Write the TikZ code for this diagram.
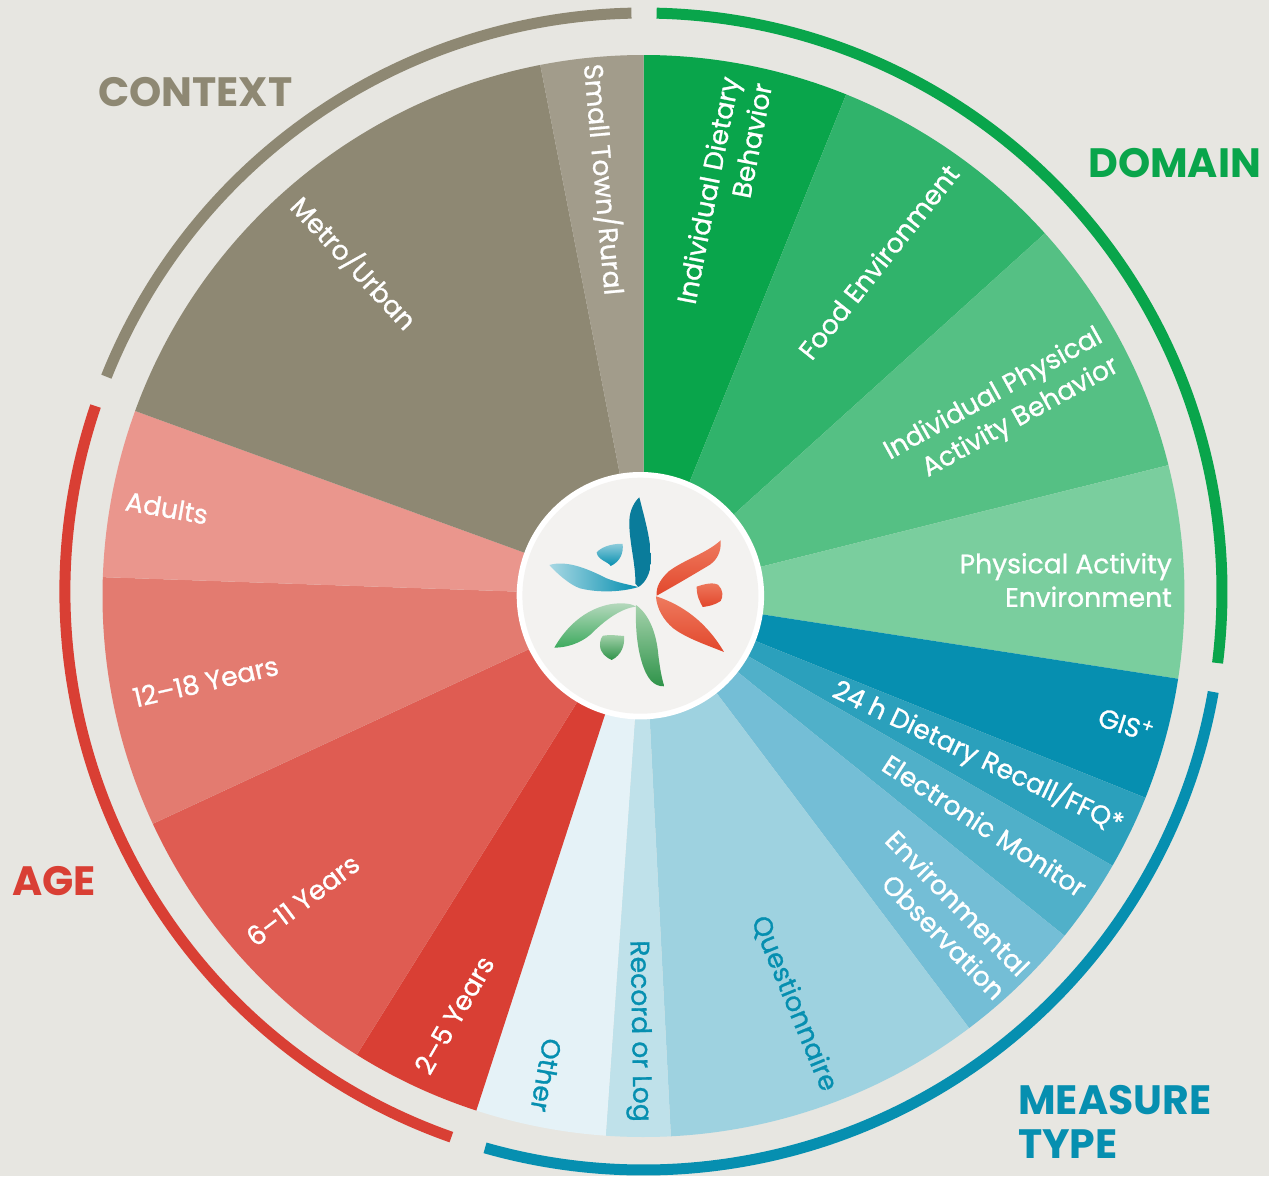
\documentclass[tikz,border=0pt]{standalone}
\usepackage{fontspec}
\setmainfont{Poppins}
\newfontfamily\labfont{Poppins}[FakeBold=1.0,Ligatures=TeX]
\definecolor{bgc}{HTML}{E7E6E1}
\definecolor{hub}{HTML}{F3F2F0}
\definecolor{dA}{HTML}{09A54B}\definecolor{dB}{HTML}{30B36B}\definecolor{dC}{HTML}{55C084}\definecolor{dD}{HTML}{7ACE9E}
\definecolor{mA}{HTML}{068FB0}\definecolor{mB}{HTML}{2BA0BC}\definecolor{mC}{HTML}{50B0C9}\definecolor{mD}{HTML}{74BED6}
\definecolor{mE}{HTML}{9ED2E0}\definecolor{mF}{HTML}{BFE1EA}\definecolor{mG}{HTML}{E5F2F7}
\definecolor{aA}{HTML}{D93F34}\definecolor{aB}{HTML}{DF5C52}\definecolor{aC}{HTML}{E37B70}\definecolor{aD}{HTML}{EA968D}
\definecolor{cA}{HTML}{8E8873}\definecolor{cB}{HTML}{A29C8B}
\definecolor{rL}{HTML}{EE7A5E}\definecolor{rD}{HTML}{E2472C}
\definecolor{tD}{HTML}{0A7C9B}
\definecolor{gL}{HTML}{B7D9BE}\definecolor{gM}{HTML}{3DAA5E}\definecolor{gD}{HTML}{2E9349}\definecolor{gT}{HTML}{A5D2AC}
\newcommand{\wheelpart}[3]{\fill[#3] (0,0) -- (90-#1:541pt) arc[start angle=90-#1,end angle=90-#2,radius=541pt] -- cycle;}
\newcommand{\ringpart}[3]{\draw[#3,line width=11pt] (90-#1:578.5pt) arc[start angle=90-#1,end angle=90-#2,radius=578.5pt];}
\tikzset{
  lab/.style={white,font=\labfont\fontsize{26.6}{33.5}\selectfont,align=right,inner sep=0pt},
  bluelab/.style={lab,text=mA},
  head/.style={font=\fontsize{41}{44}\selectfont\bfseries,inner sep=0pt,align=left},
  leaf/.style={draw=none,shading=axis}
}
\begin{document}
\begin{tikzpicture}[x=1pt,y=-1pt]
\useasboundingbox (0,0) rectangle (1269,1176);
\fill[bgc] (0,0) rectangle (1269,1176);
\begin{scope}[shift={(643.5,596)}]
\wheelpart{0}{22}{dA}\wheelpart{22}{47.9}{dB}\wheelpart{47.9}{76}{dC}\wheelpart{76}{98.8}{dD}
\wheelpart{98.8}{111.9}{mA}\wheelpart{111.9}{119.9}{mB}\wheelpart{119.9}{128.9}{mC}\wheelpart{128.9}{143}{mD}
\wheelpart{143}{177.1}{mE}\wheelpart{177.1}{184}{mF}\wheelpart{184}{198}{mG}
\wheelpart{198}{212}{aA}\wheelpart{212}{245.1}{aB}\wheelpart{245.1}{272}{aC}\wheelpart{272}{290}{aD}
\wheelpart{290}{349}{cA}\wheelpart{349}{360}{cB}
\end{scope}
\begin{scope}[shift={(643.5,591.5)}]
\ringpart{1.3}{97.1}{dA}\ringpart{100}{195.9}{mA}\ringpart{199.4}{288.7}{aA}\ringpart{291.8}{358.8}{cA}
\end{scope}
\fill[white] (640.4,595.7) circle[radius=123.7pt];
\fill[hub] (640.4,595.7) circle[radius=118pt];
\begin{scope}[shift={(510,465)},x=0.3333pt,y=-0.3333pt]
\path[leaf,left color=tD,right color=tD] (388,97) .. controls (405,165) and (423,225) .. (423,285) .. controls (423,325) and (405,355) .. (385,366) -- (376,356) .. controls (378,300) and (357,230) .. (358,170) .. controls (358,135) and (375,108) .. (388,97) -- cycle;
\path[leaf,left color=mA!35!white,middle color=mA!70!white,right color=mA] (118,300) .. controls (170,285) and (230,310) .. (290,340) .. controls (320,352) and (360,360) .. (385,366) .. controls (340,380) and (270,385) .. (210,370) .. controls (180,360) and (140,325) .. (118,300) -- cycle;
\path[leaf,top color=mA!45!white,bottom color=mA] (260,262) .. controls (280,240) and (320,235) .. (338,237) .. controls (341,265) and (330,290) .. (302,303) .. controls (298,292) and (262,285) .. (260,262) -- cycle;
\path[leaf,top color=rL,middle color=rD,bottom color=rD] (632,226) .. controls (590,265) and (520,285) .. (475,320) .. controls (450,345) and (438,365) .. (440,392) .. controls (480,370) and (540,335) .. (590,305) .. controls (620,290) and (635,260) .. (632,226) -- cycle;
\path[leaf,top color=rL,middle color=rD,bottom color=rD] (438,394) .. controls (490,410) and (540,440) .. (580,480) .. controls (610,510) and (630,540) .. (642,561) .. controls (590,540) and (530,520) .. (490,490) .. controls (460,465) and (440,430) .. (438,394) -- cycle;
\path[leaf,top color=rL,middle color=rD,bottom color=rD] (560,365) .. controls (580,358) and (610,350) .. (625,360) .. controls (640,375) and (640,395) .. (632,408) .. controls (615,420) and (595,424) .. (578,426) .. controls (570,410) and (560,395) .. (560,365) -- cycle;
\path[leaf,top color=gL,bottom color=gM] (133,548) .. controls (160,500) and (210,440) .. (290,420) .. controls (320,413) and (360,412) .. (378,425) .. controls (330,430) and (280,470) .. (240,510) .. controls (210,535) and (170,548) .. (133,548) -- cycle;
\path[leaf,top color=gT,middle color=dA,bottom color=gD] (378,420) .. controls (420,450) and (440,510) .. (445,570) .. controls (450,610) and (455,640) .. (463,664) .. controls (430,665) and (410,640) .. (395,590) .. controls (380,540) and (376,480) .. (378,420) -- cycle;
\path[leaf,top color=gT,middle color=dA,bottom color=gD] (280,512) .. controls (300,508) and (325,512) .. (342,513) .. controls (345,540) and (335,570) .. (305,585) .. controls (290,578) and (270,565) .. (270,540) .. controls (270,525) and (275,515) .. (280,512) -- cycle;
\end{scope}
\node[lab,rotate=79,anchor=east] (l1) at (746,80) {Individual Dietary\\Behavior};
\node[lab,rotate=51.5,anchor=east] (l2) at (953,168) {Food Environment};
\node[lab,rotate=29,anchor=east] (l3) at (1109,350) {Individual Physical\\Activity Behavior};
\node[lab,anchor=east] (l4) at (1172,580) {Physical Activity\\Environment};
\node[lab,rotate=-18,anchor=east] (l5) at (1153,733) {GIS\textsuperscript{+}};
\node[lab,rotate=-25.5,anchor=east] (l6) at (1122,825) {24 h Dietary Recall/FFQ*};
\node[lab,rotate=-33,anchor=east] (l7) at (1084,890) {Electronic Monitor};
\node[lab,rotate=-45.5,anchor=east] (l8) at (1013,983) {Environmental\\Observation};
\node[bluelab,rotate=-67.6,anchor=east] (l9) at (830,1090) {Questionnaire};
\node[bluelab,rotate=-89,anchor=east] (l10) at (640,1122) {Record or Log};
\node[bluelab,rotate=-100,anchor=east] (l11) at (540,1112) {Other};
\node[lab,rotate=60,anchor=east] (l12) at (487,958) {2–5 Years};
\node[lab,rotate=37,anchor=east] (l13) at (356,860) {6–11 Years};
\node[lab,rotate=13,anchor=east] (l14) at (278,665) {12–18 Years};
\node[lab,rotate=-10,anchor=east] (l15) at (208,515) {Adults};
\node[lab,rotate=-47,anchor=east] (l16) at (412,325) {Metro/Urban};
\node[lab,rotate=-84.8,anchor=east] (l17) at (615,295) {Small Town/Rural};
\node[head,text=cA,anchor=west] (h1) at (98,92) {CONTEXT};
\node[head,text=dA,anchor=west] (h2) at (1088,163) {DOMAIN};
\node[head,text=aA,anchor=west] (h3) at (12,881) {AGE};
\node[head,text=mA,anchor=west] (h4) at (1018,1122) {MEASURE\\TYPE};
\end{tikzpicture}
\end{document}
